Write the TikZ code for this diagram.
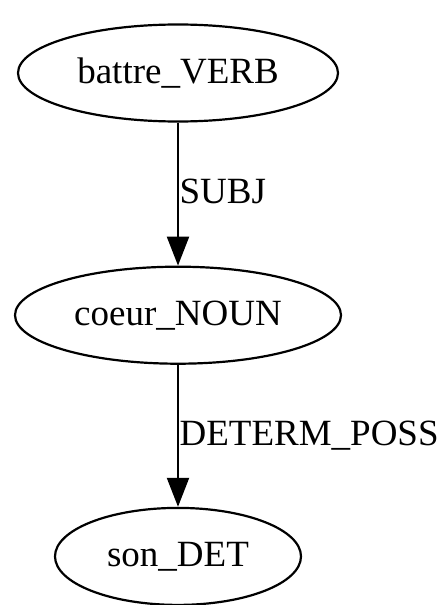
\documentclass[tikz,border=0pt]{standalone}
\usepackage{fontspec}
\setmainfont{Liberation Serif}
\usetikzlibrary{arrows.meta,positioning,shapes.geometric}
\tikzstyle{every picture}=[x=1pt,y=1pt]
\tikzstyle{wort}=[draw,ellipse,line width=2.2pt,inner sep=0pt,minimum height=97pt,font=\fontsize{37}{44}\selectfont]
\tikzstyle{rel}=[anchor=base west,inner sep=0.5pt,yshift=-9.5pt,font=\fontsize{37}{44}\selectfont]

\begin{document}
\begin{tikzpicture}
			% Rahmen festlegen
			\useasboundingbox (0,0) rectangle (445,-605);
			% Knoten zeichnen
			\node[wort,minimum width=320pt] (battre) at (178,-73) {battre\_VERB};
			\node[wort,minimum width=326pt,below=143pt of battre] (coeur) {coeur\_NOUN};
			\node[wort,minimum width=246pt,below=142pt of coeur] (son) {son\_DET};
			% Kanten zeichnen
			\draw[line width=2.2pt,-{Triangle[length=29pt,width=22pt]}] (battre) -- (coeur) node[midway,rel] {SUBJ};
			\draw[line width=2.2pt,-{Triangle[length=29pt,width=22pt]}] (coeur) -- (son) node[midway,rel] {DETERM\_POSS};
		\end{tikzpicture}
\end{document}
